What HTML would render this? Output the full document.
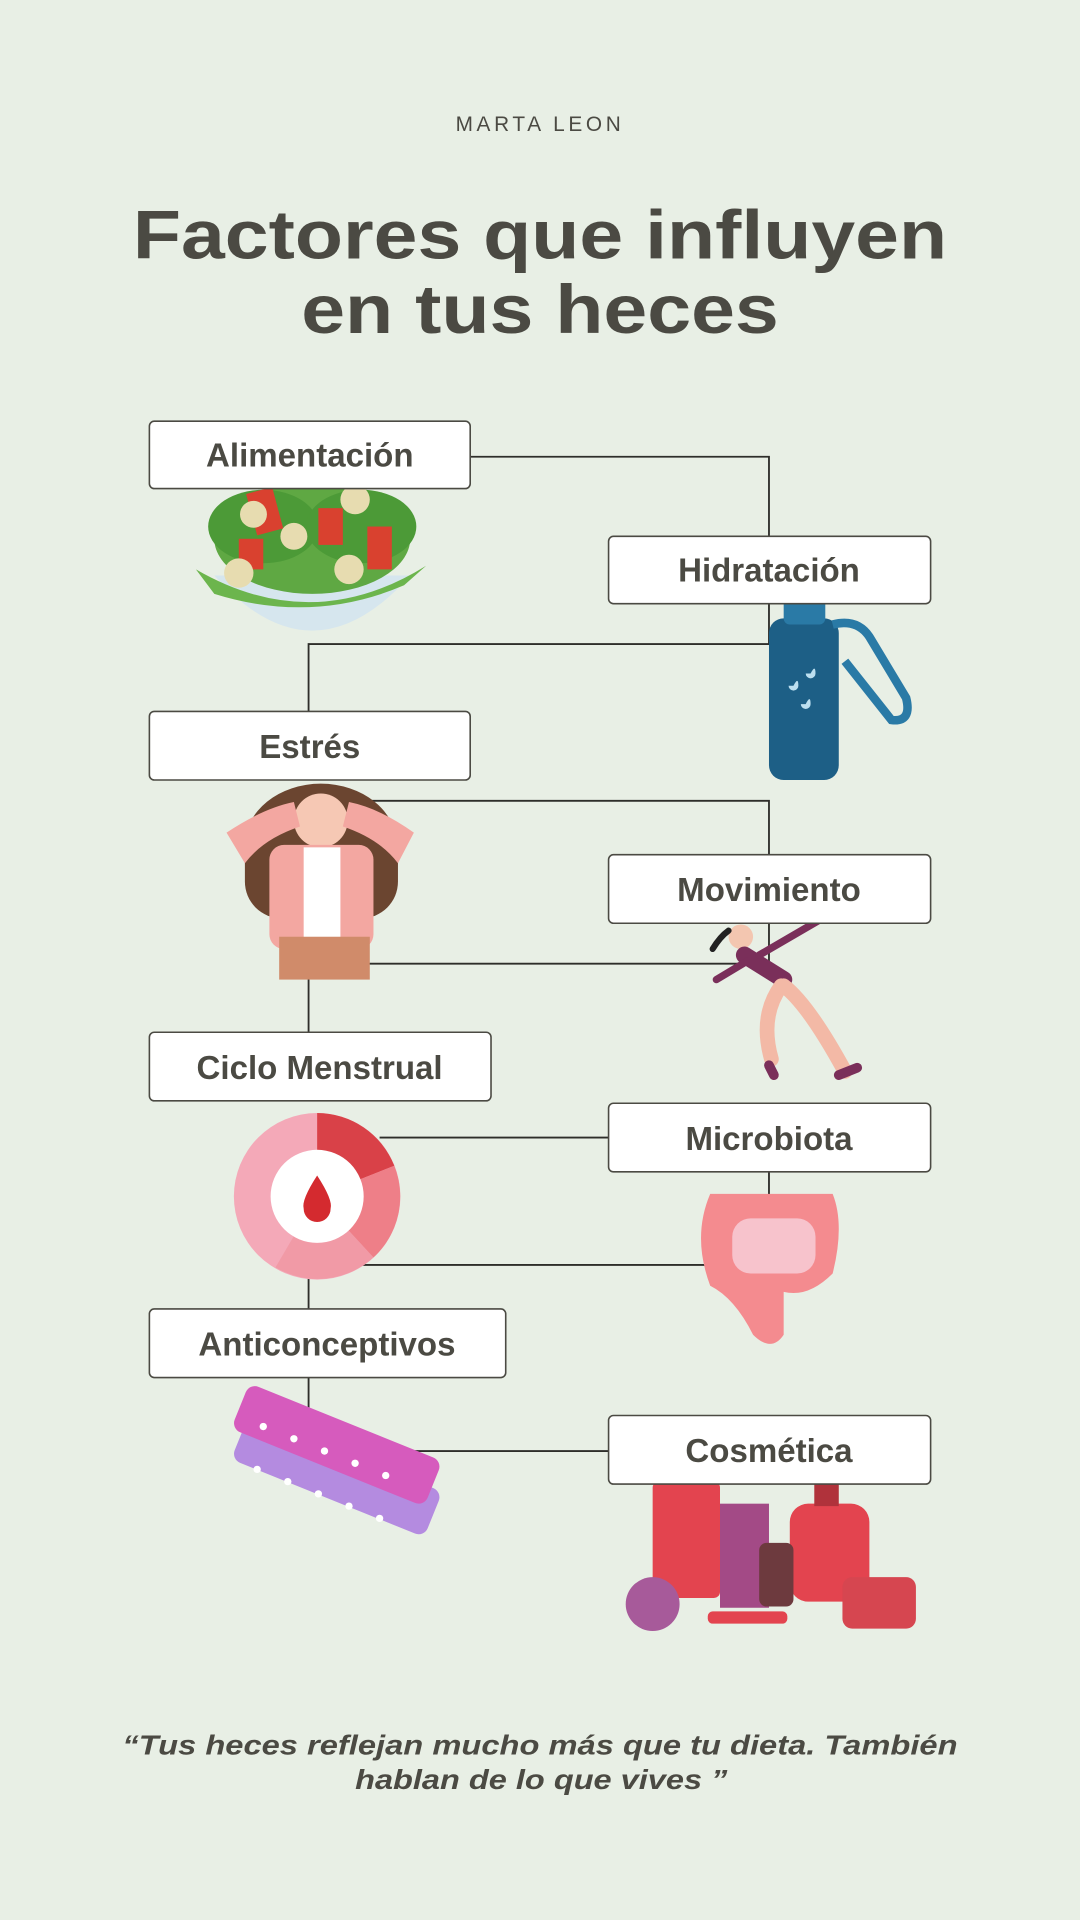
<!DOCTYPE html>
<html><head><meta charset="utf-8"><style>
html,body{margin:0;padding:0;background:#e8efe5;}
svg{display:block;}
</style></head><body>
<svg width="1080" height="1920" viewBox="0 0 882 1568" xmlns="http://www.w3.org/2000/svg" font-family="Liberation Sans, sans-serif">
<rect width="882" height="1568" fill="#e8efe5"/>
<text x="441" y="107" text-anchor="middle" font-size="17" letter-spacing="3" fill="#4b4a43">MARTA LEON</text>
<text x="441" y="211" text-anchor="middle" font-size="56" font-weight="bold" fill="#4b4a43" textLength="665" lengthAdjust="spacingAndGlyphs">Factores que influyen</text>
<text x="441" y="272" text-anchor="middle" font-size="56" font-weight="bold" fill="#4b4a43" textLength="390" lengthAdjust="spacingAndGlyphs">en tus heces</text>

<g stroke="#2e2e2a" stroke-width="1.5" fill="none">
<polyline points="384,373 628,373 628,438"/>
<polyline points="628,493 628,526 252,526 252,581"/>
<polyline points="300,654 628,654 628,698"/>
<polyline points="628,754 628,787 252,787 252,843"/>
<polyline points="310,929 497,929"/>
<polyline points="628,957 628,1033 295,1033"/>
<polyline points="252,1040 252,1069"/>
<polyline points="252,1125 252,1160"/>
<polyline points="300,1185 497,1185"/>
</g>

<!-- salad -->
<g>
<path d="M175,470 Q255,560 335,470 Z" fill="#d6e6ee"/>
<ellipse cx="255" cy="440" rx="80" ry="45" fill="#5fa843"/>
<ellipse cx="215" cy="430" rx="45" ry="30" fill="#4c9a37"/>
<ellipse cx="295" cy="430" rx="45" ry="30" fill="#4c9a37"/>
<path d="M160,465 Q255,520 348,462 L330,478 Q255,510 175,485 Z" fill="#6cb54d"/>
<rect x="205" y="400" width="22" height="35" fill="#d9412f" transform="rotate(-15 216 417)"/>
<rect x="260" y="415" width="20" height="30" fill="#d9412f"/>
<rect x="300" y="430" width="20" height="35" fill="#d9412f"/>
<rect x="195" y="440" width="20" height="25" fill="#d9412f"/>
<circle cx="207" cy="420" r="11" fill="#e7dcb0"/>
<circle cx="290" cy="408" r="12" fill="#e7dcb0"/>
<circle cx="240" cy="438" r="11" fill="#e7dcb0"/>
<circle cx="285" cy="465" r="12" fill="#e7dcb0"/>
<circle cx="195" cy="468" r="12" fill="#e7dcb0"/>
</g>

<!-- bottle -->
<g>
<rect x="628" y="505" width="57" height="132" rx="12" fill="#1d5f86"/>
<rect x="640" y="486" width="34" height="24" rx="5" fill="#2a7aa6"/>
<path d="M680,510 Q700,505 710,520 L740,570 Q745,590 728,588 L690,540" fill="none" stroke="#2a7aa6" stroke-width="7"/>
<path d="M648,560 q4,-8 4,0 a4,4 0 0 1 -8,0 z" fill="#bcdff0"/>
<path d="M662,550 q4,-8 4,0 a4,4 0 0 1 -8,0 z" fill="#bcdff0"/>
<path d="M658,575 q4,-8 4,0 a4,4 0 0 1 -8,0 z" fill="#bcdff0"/>
</g>

<!-- stressed woman -->
<g>
<ellipse cx="262" cy="690" rx="62" ry="50" fill="#6b4530"/>
<rect x="200" y="670" width="125" height="80" rx="30" fill="#6b4530"/>
<circle cx="262" cy="670" r="22" fill="#f6c8b4"/>
<rect x="220" y="690" width="85" height="85" rx="12" fill="#f3a7a1"/>
<rect x="248" y="692" width="30" height="80" fill="#ffffff"/>
<path d="M185,680 Q215,660 240,655 L245,675 Q215,685 200,705 Z" fill="#f3a7a1"/>
<path d="M338,680 Q310,660 285,655 L280,675 Q310,685 325,705 Z" fill="#f3a7a1"/>
<rect x="228" y="765" width="74" height="35" fill="#d08b6a"/>
</g>

<!-- runner -->
<g fill="none" stroke-linecap="round">
<circle cx="605" cy="765" r="10" fill="#f3c6b0"/>
<path d="M595,760 Q588,765 582,775" stroke="#222" stroke-width="5"/>
<path d="M608,780 L640,800" stroke="#7a2f5a" stroke-width="14"/>
<path d="M620,780 L675,748" stroke="#7a2f5a" stroke-width="6"/>
<path d="M610,785 L585,800" stroke="#7a2f5a" stroke-width="6"/>
<path d="M640,805 Q660,820 690,875" stroke="#f3b9a6" stroke-width="12"/>
<path d="M638,805 Q620,830 630,865" stroke="#f3b9a6" stroke-width="12"/>
<path d="M685,878 L700,872" stroke="#7a2f5a" stroke-width="8"/>
<path d="M628,870 L632,878" stroke="#7a2f5a" stroke-width="8"/>
</g>

<!-- donut -->
<g>
<circle cx="259" cy="977" r="68" fill="#f4a9b8"/>
<path d="M259,909 A68,68 0 0 1 322,952 L259,977 Z" fill="#d94148"/>
<path d="M322,952 A68,68 0 0 1 305,1027 L259,977 Z" fill="#ee7f88"/>
<path d="M305,1027 A68,68 0 0 1 225,1035 L259,977 Z" fill="#f19aa6"/>
<circle cx="259" cy="977" r="38" fill="#ffffff"/>
<path d="M259,960 Q272,980 270,987 A11,11 0 0 1 248,987 Q246,980 259,960 Z" fill="#d42a2f"/>
</g>

<!-- intestine -->
<g>
<path d="M580,975 L680,975 Q690,1000 680,1040 Q660,1060 640,1055 L640,1090 Q630,1105 615,1090 Q600,1060 580,1050 Q565,1010 580,975 Z" fill="#f48b8f"/>
<rect x="598" y="995" width="68" height="45" rx="15" fill="#f7c3cc"/>
</g>

<!-- pills -->
<g>
<rect x="190" y="1185" width="170" height="40" rx="8" fill="#b48be0" transform="rotate(22 275 1205)"/>
<rect x="190" y="1160" width="170" height="40" rx="8" fill="#d65bbd" transform="rotate(22 275 1180)"/>
<g fill="#ffffff">
<circle cx="215" cy="1165" r="3"/><circle cx="240" cy="1175" r="3"/><circle cx="265" cy="1185" r="3"/><circle cx="290" cy="1195" r="3"/><circle cx="315" cy="1205" r="3"/>
<circle cx="210" cy="1200" r="3"/><circle cx="235" cy="1210" r="3"/><circle cx="260" cy="1220" r="3"/><circle cx="285" cy="1230" r="3"/><circle cx="310" cy="1240" r="3"/>
</g>
</g>

<!-- cosmetics -->
<g>
<rect x="533" y="1210" width="55" height="95" rx="5" fill="#e3444f"/>
<rect x="588" y="1228" width="40" height="85" fill="#a34a86"/>
<rect x="645" y="1228" width="65" height="80" rx="15" fill="#e3444f"/>
<rect x="665" y="1205" width="20" height="25" fill="#b0323b"/>
<rect x="620" y="1260" width="28" height="52" rx="6" fill="#6d3a3e"/>
<circle cx="533" cy="1310" r="22" fill="#a75a9a"/>
<rect x="688" y="1288" width="60" height="42" rx="8" fill="#d64650"/>
<rect x="578" y="1316" width="65" height="10" rx="4" fill="#e3444f"/>
</g>

<g fill="#ffffff" stroke="#4b4a43" stroke-width="1.3">
<rect x="122" y="344" width="262" height="55" rx="4"/>
<rect x="497" y="438" width="263" height="55" rx="4"/>
<rect x="122" y="581" width="262" height="56" rx="4"/>
<rect x="497" y="698" width="263" height="56" rx="4"/>
<rect x="122" y="843" width="279" height="56" rx="4"/>
<rect x="497" y="901" width="263" height="56" rx="4"/>
<rect x="122" y="1069" width="291" height="56" rx="4"/>
<rect x="497" y="1156" width="263" height="56" rx="4"/>
</g>
<g font-size="27" font-weight="bold" fill="#4b4a43" text-anchor="middle">
<text x="253" y="381">Alimentación</text>
<text x="628" y="475">Hidratación</text>
<text x="253" y="619">Estrés</text>
<text x="628" y="736">Movimiento</text>
<text x="261" y="881">Ciclo Menstrual</text>
<text x="628" y="939">Microbiota</text>
<text x="267" y="1107">Anticonceptivos</text>
<text x="628" y="1194">Cosmética</text>
</g>

<g font-size="23" font-weight="bold" font-style="italic" fill="#4b4a43" text-anchor="middle">
<text x="441" y="1433" textLength="682" lengthAdjust="spacingAndGlyphs">“Tus heces reflejan mucho más que tu dieta. También</text>
<text x="442" y="1461" textLength="304" lengthAdjust="spacingAndGlyphs">hablan de lo que vives ”</text>
</g>
</svg>
</body></html>
